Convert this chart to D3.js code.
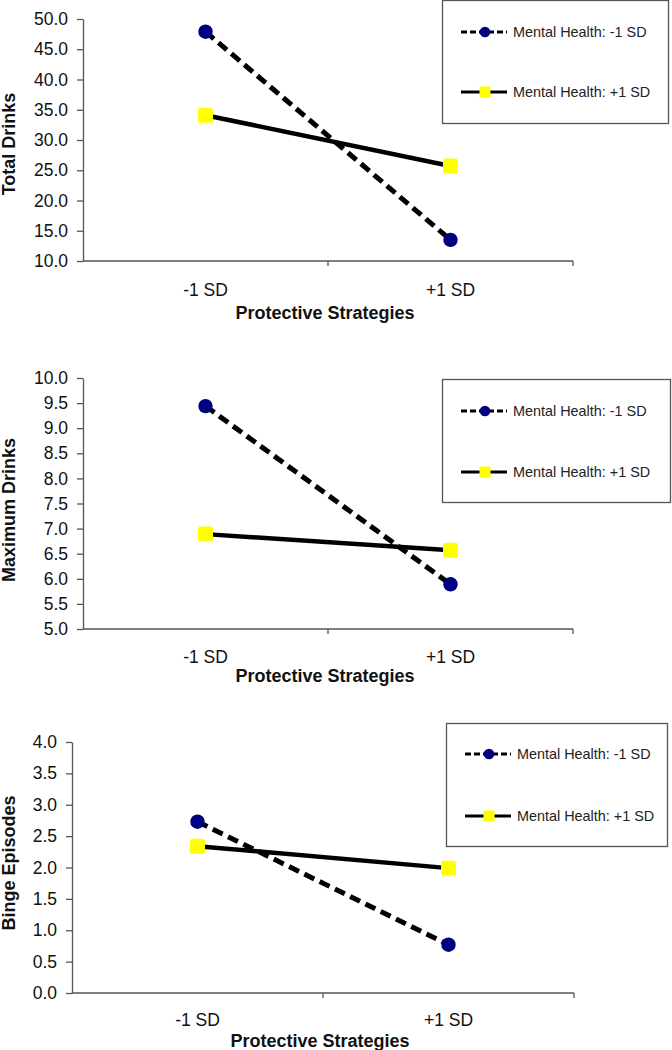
<!DOCTYPE html>
<html>
<head>
<meta charset="utf-8">
<script src="https://cdn.jsdelivr.net/npm/d3@7"></script>
<style>
  html, body { margin: 0; padding: 0; background: #fff; }
  svg { display: block; font-family: "Liberation Sans", Arial, sans-serif; }
</style>
</head>
<body>
<svg id="chart" width="672" height="1050"></svg>
<script>
// ---------- DATA ----------
const categories = ["-1 SD", "+1 SD"];
const seriesNames = ["Mental Health: -1 SD", "Mental Health: +1 SD"];
const xTitle = "Protective Strategies";

const totalDrinksLow  = [47.9, 13.5];
const totalDrinksHigh = [34.1, 25.7];
const totalDrinksTicks = [10, 15, 20, 25, 30, 35, 40, 45, 50];

const maxDrinksLow  = [9.44, 5.89];
const maxDrinksHigh = [6.89, 6.57];
const maxDrinksTicks = [5, 5.5, 6, 6.5, 7, 7.5, 8, 8.5, 9, 9.5, 10];

const bingeLow  = [2.73, 0.77];
const bingeHigh = [2.34, 1.99];
const bingeTicks = [0, 0.5, 1, 1.5, 2, 2.5, 3, 3.5, 4];

const panelTitles = ["Total Drinks", "Maximum Drinks", "Binge Episodes"];

// ---------- LAYOUT ----------
const panels = [
  { title: panelTitles[0], low: totalDrinksLow, high: totalDrinksHigh, ticks: totalDrinksTicks,
    x0: 83, x1: 573, yTop: 19, yBot: 261, catOff: 35, titleOff: 58, ylabCy: 144,
    legend: { x: 442, y: 0, w: 226, h: 123, r1: 32, r2: 92 } },
  { title: panelTitles[1], low: maxDrinksLow, high: maxDrinksHigh, ticks: maxDrinksTicks,
    x0: 83, x1: 573, yTop: 378, yBot: 629, catOff: 34, titleOff: 53, ylabCy: 510,
    legend: { x: 442, y: 379, w: 228, h: 123, r1: 411, r2: 472 } },
  { title: panelTitles[2], low: bingeLow, high: bingeHigh, ticks: bingeTicks,
    x0: 72, x1: 574, yTop: 742, yBot: 993, catOff: 33, titleOff: 54, ylabCy: 863,
    legend: { x: 446, y: 723, w: 221, h: 123, r1: 754, r2: 816 } }
];

const svg = d3.select("#chart");
const axisColor = "#555";
const textColor = "#111";
const navy = "#000080";
const yellow = "#FFFF00";

panels.forEach(p => {
  const g = svg.append("g");
  const y = d3.scaleLinear()
    .domain([d3.min(p.ticks), d3.max(p.ticks)])
    .range([p.yBot, p.yTop]);
  const x = d3.scaleBand().domain(categories).range([p.x0, p.x1]);
  const cx = c => x(c) + x.bandwidth() / 2;

  // y axis
  const yAxis = d3.axisLeft(y).tickValues(p.ticks).tickFormat(d3.format(".1f"))
    .tickSize(6).tickSizeOuter(0).tickPadding(9);
  const ya = g.append("g").attr("transform", `translate(${p.x0},0)`).call(yAxis);
  ya.select(".domain").attr("stroke", axisColor).attr("stroke-width", 1.3);
  ya.selectAll(".tick line").attr("stroke", axisColor).attr("stroke-width", 1.3);
  ya.selectAll(".tick text").attr("fill", textColor)
    .style("font-size", "17.5px").style("font-family", "'Liberation Sans', Arial, sans-serif");

  // x axis
  const xa = g.append("g").attr("transform", `translate(0,${p.yBot})`);
  xa.append("line").attr("x1", p.x0).attr("x2", p.x1).attr("y1", 0).attr("y2", 0)
    .attr("stroke", axisColor).attr("stroke-width", 1.5);
  const bounds = [x(categories[1]), p.x1];
  xa.selectAll("line.tk").data(bounds).enter().append("line").attr("class", "tk")
    .attr("x1", d => d).attr("x2", d => d).attr("y1", 0).attr("y2", 5)
    .attr("stroke", axisColor).attr("stroke-width", 1.3);
  xa.selectAll("text.cat").data(categories).enter().append("text").attr("class", "cat")
    .attr("x", d => cx(d)).attr("y", p.catOff).attr("text-anchor", "middle")
    .attr("fill", textColor).style("font-size", "17.5px").text(d => d);
  xa.append("text").attr("x", (p.x0 + p.x1) / 2 - 3).attr("y", p.titleOff)
    .attr("text-anchor", "middle").attr("fill", textColor)
    .style("font-size", "18px").style("font-weight", "bold").text(xTitle);

  // y title
  g.append("text").attr("transform", `translate(9,${p.ylabCy}) rotate(-90)`)
    .attr("text-anchor", "middle").attr("dominant-baseline", "central")
    .attr("fill", textColor).style("font-size", "18px").style("font-weight", "bold")
    .text(p.title);

  const line = d3.line().x((d, i) => cx(categories[i])).y(d => y(d));

  // series +1 SD (solid, yellow squares)
  g.append("path").datum(p.high).attr("d", line).attr("fill", "none")
    .attr("stroke", "#000").attr("stroke-width", 4.5);
  // series -1 SD (dashed, navy circles)
  g.append("path").datum(p.low).attr("d", line).attr("fill", "none")
    .attr("stroke", "#000").attr("stroke-width", 5).attr("stroke-dasharray", "11,6");

  g.selectAll("rect.pt").data(p.high).enter().append("rect").attr("class", "pt")
    .attr("x", (d, i) => cx(categories[i]) - 7.5).attr("y", d => y(d) - 7.5)
    .attr("width", 15).attr("height", 15).attr("rx", 2.5)
    .attr("fill", yellow);
  g.selectAll("circle.pt").data(p.low).enter().append("circle").attr("class", "pt")
    .attr("cx", (d, i) => cx(categories[i])).attr("cy", d => y(d)).attr("r", 7.2)
    .attr("fill", navy);

  // legend
  const L = p.legend;
  const lg = g.append("g");
  lg.append("rect").attr("x", L.x + 0.5).attr("y", L.y + 0.5).attr("width", L.w).attr("height", L.h)
    .attr("fill", "#fff").attr("stroke", axisColor).attr("stroke-width", 1.3);
  const lx0 = L.x + 19, lx1 = L.x + 65, lm = L.x + 43, tx = L.x + 71;
  lg.append("line").attr("x1", lx0).attr("x2", lx1).attr("y1", L.r1).attr("y2", L.r1)
    .attr("stroke", "#000").attr("stroke-width", 3.2).attr("stroke-dasharray", "6,3");
  lg.append("circle").attr("cx", lm).attr("cy", L.r1).attr("r", 5.3).attr("fill", navy);
  lg.append("text").attr("x", tx).attr("y", L.r1).attr("dy", "0.35em").attr("fill", "#222")
    .style("font-size", "14.4px").text(seriesNames[0]);
  lg.append("line").attr("x1", lx0).attr("x2", lx1).attr("y1", L.r2).attr("y2", L.r2)
    .attr("stroke", "#000").attr("stroke-width", 3.2);
  lg.append("rect").attr("x", lm - 5.5).attr("y", L.r2 - 5.5).attr("width", 11).attr("height", 11)
    .attr("fill", yellow);
  lg.append("text").attr("x", tx).attr("y", L.r2).attr("dy", "0.35em").attr("fill", "#222")
    .style("font-size", "14.4px").text(seriesNames[1]);
});
</script>
</body>
</html>
